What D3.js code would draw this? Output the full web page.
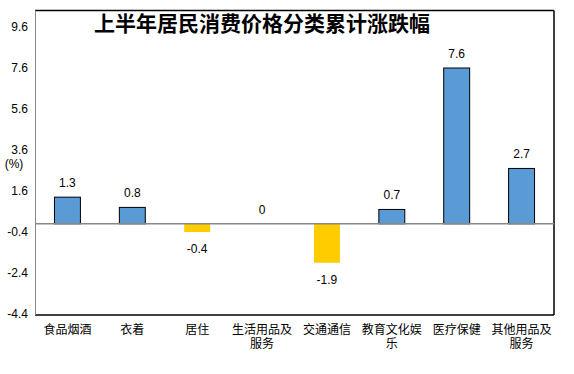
<!DOCTYPE html>
<html>
<head>
<meta charset="utf-8">
<script src="https://cdn.jsdelivr.net/npm/d3@7"></script>
<style>
  body { margin: 0; background: #fff; }
  #chart { width: 574px; height: 374px; }
  text { font-family: "Liberation Sans", Arial, "Noto Sans CJK SC", sans-serif; }
</style>
</head>
<body>
<div id="chart"></div>
<script>
const categories = ["食品烟酒", "衣着", "居住", "生活用品及服务", "交通通信", "教育文化娱乐", "医疗保健", "其他用品及服务"];
const values = [1.3, 0.8, -0.4, 0, -1.9, 0.7, 7.6, 2.7];
const tickValues = [9.6, 7.6, 5.6, 3.6, 1.6, -0.4, -2.4, -4.4];

const width = 574, height = 374;
const plotLeft = 35, plotRight = 554, plotTop = 10.5, plotBottom = 315;

const svg = d3.select("#chart").append("svg")
  .attr("width", width)
  .attr("height", height);

// x is a band scale over the plot area
const x = d3.scaleBand()
  .domain(categories)
  .range([plotLeft, plotRight])
  .paddingInner(0.6)
  .paddingOuter(0.3);

// y: 9.6 sits at 27px, -4.4 at the bottom border
const y = d3.scaleLinear()
  .domain([-4.4, 9.6])
  .range([314, 27]);

// frame
svg.append("line").attr("x1", plotLeft).attr("x2", plotRight).attr("y1", plotTop).attr("y2", plotTop)
  .attr("stroke", "#000").attr("stroke-width", 1.5);
svg.append("line").attr("x1", plotRight).attr("x2", plotRight).attr("y1", plotTop).attr("y2", plotBottom)
  .attr("stroke", "#000").attr("stroke-width", 1.5);
svg.append("line").attr("x1", plotLeft).attr("x2", plotRight).attr("y1", plotBottom).attr("y2", plotBottom)
  .attr("stroke", "#000").attr("stroke-width", 1.5);
svg.append("line").attr("x1", plotLeft + 0.5).attr("x2", plotLeft + 0.5).attr("y1", plotTop).attr("y2", plotBottom)
  .attr("stroke", "#888").attr("stroke-width", 1);

// y tick labels
svg.append("g")
  .selectAll("text")
  .data(tickValues)
  .enter()
  .append("text")
  .attr("x", 28)
  .attr("y", d => y(d))
  .attr("dy", "0.35em")
  .attr("text-anchor", "end")
  .attr("font-size", 12)
  .attr("fill", "#000")
  .text(d => d.toFixed(1));

svg.append("text")
  .attr("x", 14)
  .attr("y", 164)
  .attr("dy", "0.35em")
  .attr("text-anchor", "middle")
  .attr("font-size", 12)
  .text("(%)");

// bars
svg.append("g")
  .selectAll("rect")
  .data(values)
  .enter()
  .append("rect")
  .attr("x", (d, i) => x(categories[i]))
  .attr("width", x.bandwidth())
  .attr("y", d => y(Math.max(0, d)))
  .attr("height", d => Math.abs(y(d) - y(0)))
  .attr("fill", d => d >= 0 ? "#5B9BD5" : "#FFCC00")
  .attr("stroke", d => d > 0 ? "#000" : "none")
  .attr("stroke-width", 1);

// zero line
svg.append("line")
  .attr("x1", plotLeft).attr("x2", plotRight)
  .attr("y1", y(0)).attr("y2", y(0))
  .attr("stroke", "#888").attr("stroke-width", 1.5);

// value labels
svg.append("g")
  .selectAll("text")
  .data(values)
  .enter()
  .append("text")
  .attr("x", (d, i) => x(categories[i]) + x.bandwidth() / 2)
  .attr("y", d => d >= 0 ? y(d) - 10 : y(d) + 21)
  .attr("text-anchor", "middle")
  .attr("font-size", 12)
  .attr("fill", "#000")
  .text(d => d);

// category labels, wrapped at 5 characters
const catLabels = svg.append("g")
  .selectAll("text")
  .data(categories)
  .enter()
  .append("text")
  .attr("x", d => x(d) + x.bandwidth() / 2)
  .attr("y", 334)
  .attr("text-anchor", "middle")
  .attr("font-size", 12)
  .attr("font-family", "'Noto Sans CJK SC', sans-serif")
  .attr("fill", "#000");

catLabels.each(function (d) {
  const lines = [];
  for (let i = 0; i < d.length; i += 5) lines.push(d.slice(i, i + 5));
  d3.select(this).selectAll("tspan")
    .data(lines)
    .enter()
    .append("tspan")
    .attr("x", x(d) + x.bandwidth() / 2)
    .attr("dy", (l, i) => i === 0 ? 0 : 14)
    .text(l => l);
});

// title
svg.append("text")
  .attr("x", 262)
  .attr("y", 31)
  .attr("text-anchor", "middle")
  .attr("font-size", 21)
  .attr("font-weight", "bold")
  .attr("font-family", "'Noto Sans CJK SC', sans-serif")
  .attr("fill", "#000")
  .text("上半年居民消费价格分类累计涨跌幅");
</script>
</body>
</html>
